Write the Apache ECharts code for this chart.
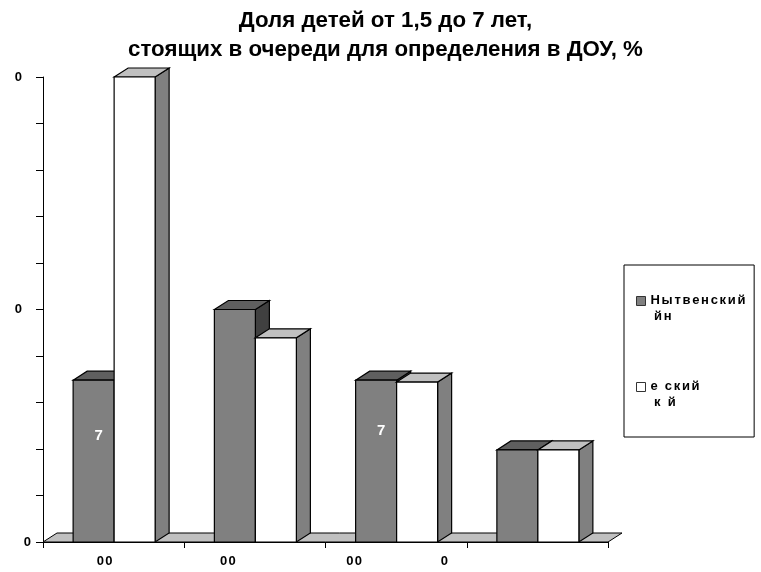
<!DOCTYPE html>
<html><head><meta charset="utf-8">
<style>html,body{margin:0;padding:0;background:#fff}#c{width:761px;height:572px}</style>
<script src="https://cdn.jsdelivr.net/npm/echarts@6/dist/echarts.min.js"></script>
</head><body><div id="c"></div>
<script>
const categories = ["00", "00", "00", "0"];
const seriesNames = ["Нытвенский\n йн", "е ский\n к й"];
const valuesA = [34.8, 50, 34.8, 19.8];
const valuesB = [100, 43.9, 34.4, 19.8];
const dataLabelsA = ["7", "", "7", ""];
const yTickLabels = ["0", "", "", "", "", "0", "", "", "", "", "0"];
const titleLines = ["Доля детей от 1,5 до 7 лет,", "стоящих в очереди для определения в ДОУ, %"];

// styling constants
const FONT = '"Liberation Sans", Arial, sans-serif';
const DX = 14, DY = -9, BAR_RATIO = 41 / 141.25;
const labelLift = [25, 0, 30, 0];
const catShift = [9, 27, 42, 93];
const spaced = (s, tag, lead) => s.split('\n').map(l => Array.from(l).map((ch, k) => `{${k === 0 && ch === ' ' ? lead : tag}|${ch}}`).join('')).join('\n');

function barRenderer(side, colors, labels) {
  return function (params, api) {
    const i = api.value(0), v = api.value(1);
    const base = api.coord([i, 0]), top = api.coord([i, v]);
    const w = api.size([1, 0])[0] * BAR_RATIO;
    const x0 = (side < 0 ? base[0] - w : base[0]) + 0.5, x1 = x0 + w;
    const st = { stroke: '#000', lineWidth: 1.2 };
    const children = [
      { type: 'polygon', shape: { points: [[x1, top[1]], [x1 + DX, top[1] + DY], [x1 + DX, base[1] + DY], [x1, base[1]]] },
        style: Object.assign({ fill: colors.side }, st) },
      { type: 'polygon', shape: { points: [[x0, top[1]], [x0 + DX, top[1] + DY], [x1 + DX, top[1] + DY], [x1, top[1]]] },
        style: Object.assign({ fill: colors.top }, st) },
      { type: 'rect', shape: { x: x0, y: top[1], width: w, height: base[1] - top[1] },
        style: Object.assign({ fill: colors.front }, st) }
    ];
    if (labels && labels[i]) {
      children.push({ type: 'text', x: (x0 + x1) / 2 + 5, y: (top[1] + base[1]) / 2 - labelLift[i],
        style: { text: labels[i], fill: '#fff', font: 'bold 15px ' + FONT, align: 'center', verticalAlign: 'middle' } });
    }
    return { type: 'group', children };
  };
}
function floorRenderer(params, api) {
  const c = params.coordSys, b = c.y + c.height, r = c.x + c.width;
  return { type: 'polygon', shape: { points: [[c.x, b], [c.x + DX, b + DY], [r + DX, b + DY], [r, b]] },
    style: { fill: '#c0c0c0', stroke: '#000', lineWidth: 1 } };
}
const rowsA = valuesA.map((v, i) => [i, v]);
const rowsB = valuesB.map((v, i) => [i, v]);
const catRich = {};
catShift.forEach((s, i) => { catRich['c' + i] = { padding: [0, 2 * s, 0, 0], fontWeight: 'bold', fontSize: 13, fontFamily: FONT, color: '#000' }; });

const icon = 'path://M0 4H9V13H0ZM0 0L0 0M0 32L0 32';
const chart = echarts.init(document.getElementById('c'));
chart.setOption({
  animation: false,
  backgroundColor: '#fff',
  title: { text: titleLines.join('\n'), left: 380.5, top: 1, textAlign: 'center',
    textStyle: { fontFamily: FONT, fontWeight: 'bold', fontSize: 22.3, lineHeight: 29, color: '#000' } },
  grid: { left: 43, right: 153, top: 77, bottom: 30 },
  xAxis: { type: 'category', data: categories,
    axisLine: { show: true, lineStyle: { color: '#000', width: 1.2 } },
    axisTick: { show: true, alignWithLabel: false, length: 6, lineStyle: { color: '#000' } },
    axisLabel: { interval: 0, hideOverlap: false, margin: 13,
      formatter: (v, i) => `{c${i}|${v.split('').join('\u200a')}}`, rich: catRich } },
  yAxis: { type: 'value', min: 0, max: 100, interval: 10,
    splitLine: { show: false },
    axisLine: { show: true, lineStyle: { color: '#000', width: 1 } },
    axisTick: { show: true, length: 7, lineStyle: { color: '#000' } },
    axisLabel: { margin: 12, formatter: v => { const t = yTickLabels[Math.round(v / 10)]; return t ? (v === 0 ? `{n|${t}}` : `{p|${t}}`) : ''; },
      rich: { n: { fontWeight: 'bold', fontSize: 13, fontFamily: FONT, color: '#000', padding: [0, 0, 0, 0] },
              p: { fontWeight: 'bold', fontSize: 13, fontFamily: FONT, color: '#000', padding: [0, 9, 0, 0] } } } },
  legend: { orient: 'vertical', left: 624, top: 265, padding: [27, 7, 26, 12], itemGap: 53,
    itemWidth: 9, itemHeight: 32, borderColor: '#000', borderWidth: 1, backgroundColor: '#fff',
    selectedMode: false,
    data: [
      { name: seriesNames[0], icon, itemStyle: { color: '#808080', borderColor: '#333', borderWidth: 1 } },
      { name: seriesNames[1], icon, itemStyle: { color: '#fff', borderColor: '#333', borderWidth: 1 } }
    ],
    formatter: n => spaced(n, 's', 'z'),
    textStyle: { width: 95, lineHeight: 16, fontFamily: FONT, fontWeight: 'bold', fontSize: 13, color: '#000',
      rich: { s: { fontFamily: FONT, fontWeight: 'bold', fontSize: 13, lineHeight: 16, color: '#000', padding: [0, 1.7, 0, 0] },
              z: { fontFamily: FONT, fontWeight: 'bold', fontSize: 13, lineHeight: 16, color: '#000' } } } },
  series: [
    { type: 'custom', name: 'floor', z: 1, silent: true, data: [[0, 0]], encode: { x: 0, y: 1 }, renderItem: floorRenderer },
    { type: 'custom', name: seriesNames[0], z: 2, data: rowsA, encode: { x: 0, y: 1 },
      itemStyle: { color: '#808080' },
      renderItem: barRenderer(-1, { front: '#808080', top: '#5f5f5f', side: '#404040' }, dataLabelsA) },
    { type: 'custom', name: seriesNames[1], z: 3, data: rowsB, encode: { x: 0, y: 1 },
      itemStyle: { color: '#fff' },
      renderItem: barRenderer(1, { front: '#fff', top: '#c0c0c0', side: '#808080' }, null) }
  ]
});
</script></body></html>
